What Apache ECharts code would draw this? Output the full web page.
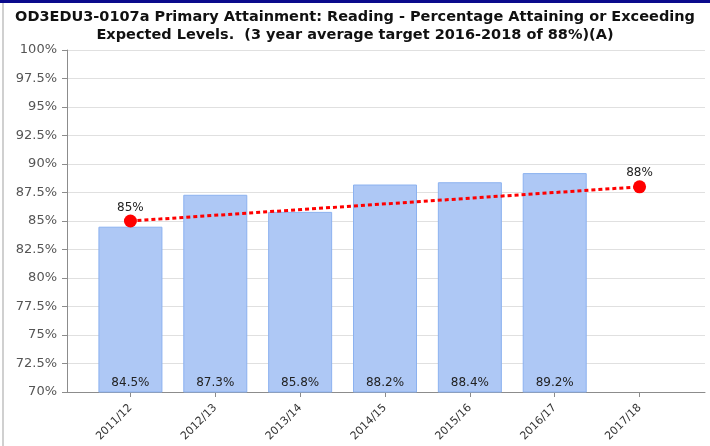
<!DOCTYPE html>
<html>
<head>
<meta charset="utf-8">
<script src="https://cdn.jsdelivr.net/npm/echarts@6/dist/echarts.min.js"></script>
<style>
  html, body { margin: 0; padding: 0; background: #fff; }
  #chart { width: 710px; height: 446px; }
</style>
</head>
<body>
<div id="chart"></div>
<script>
const years = ["2011/12", "2012/13", "2013/14", "2014/15", "2015/16", "2016/17", "2017/18"];
const actual = [84.5, 87.3, 85.8, 88.2, 88.4, 89.2, null];
const target = [85, null, null, null, null, null, 88];

const titleText = "OD3EDU3-0107a Primary Attainment: Reading - Percentage Attaining or Exceeding\nExpected Levels.  (3 year average target 2016-2018 of 88%)(A)";

const chart = echarts.init(document.getElementById("chart"));

const pct = (v) => `${v}%`;

chart.setOption({
  animation: false,
  title: {
    text: titleText,
    left: "center",
    top: 3,
    textStyle: {
      fontFamily: "DejaVu Sans",
      fontSize: 14.5,
      fontWeight: "bold",
      color: "#111",
      lineHeight: 18,
    },
  },
  graphic: [
    { type: "rect", shape: { x: 0, y: 0, width: 710, height: 3 }, style: { fill: "#0a0a8c" } },
    { type: "rect", shape: { x: 2, y: 3, width: 2, height: 443 }, style: { fill: "#d0d0d0" } },
  ],
  grid: [
    // frame grid: axis lines and gridlines across the full width
    { left: 67, right: 5, top: 50, bottom: 54 },
    // data grid: categories are placed inside it
    { left: 88, right: 28, top: 50, bottom: 54 },
  ],
  xAxis: [
    {
      gridIndex: 0,
      type: "value",
      min: 0,
      max: 1,
      axisLine: { show: true, lineStyle: { color: "#8c8c8c", width: 1 } },
      axisTick: { show: false },
      axisLabel: { show: false },
      splitLine: { show: false },
    },
    {
      gridIndex: 1,
      type: "category",
      data: years,
      axisLine: { show: false },
      axisTick: { show: true, alignWithLabel: true, length: 5, lineStyle: { color: "#8c8c8c" } },
      axisLabel: {
        rotate: 45,
        fontFamily: "DejaVu Sans",
        fontSize: 11,
        color: "#333",
        margin: 14,
      },
    },
  ],
  yAxis: [
    {
      gridIndex: 0,
      type: "value",
      min: 70,
      max: 100,
      interval: 2.5,
      axisLine: { show: true, lineStyle: { color: "#8c8c8c", width: 1 } },
      axisTick: { show: true, length: 5, lineStyle: { color: "#8c8c8c" } },
      axisLabel: {
        formatter: pct,
        fontFamily: "DejaVu Sans",
        fontSize: 13,
        color: "#555",
        margin: 10,
      },
      splitLine: { show: true, lineStyle: { color: "#e0e0e0", width: 1 } },
    },
    {
      gridIndex: 1,
      type: "value",
      min: 70,
      max: 100,
      interval: 2.5,
      show: false,
      splitLine: { show: false },
    },
  ],
  series: [
    {
      type: "bar",
      xAxisIndex: 1,
      yAxisIndex: 1,
      data: actual,
      barWidth: 64,
      itemStyle: { color: "#aec8f5", borderColor: "#8cb2f0", borderWidth: 1 },
      label: {
        show: true,
        position: "insideBottom",
        distance: 4,
        formatter: (p) => pct(p.value),
        fontFamily: "DejaVu Sans",
        fontSize: 12,
        color: "#222",
      },
    },
    {
      type: "line",
      xAxisIndex: 1,
      yAxisIndex: 1,
      data: target,
      connectNulls: true,
      symbol: "circle",
      symbolSize: 13,
      itemStyle: { color: "#ff0000" },
      lineStyle: { color: "#ff0000", width: 3, type: [4, 3], cap: "butt" },
      label: {
        show: true,
        position: "top",
        distance: 1,
        formatter: (p) => pct(p.value),
        fontFamily: "DejaVu Sans",
        fontSize: 12,
        color: "#222",
      },
      z: 5,
    },
  ],
});
</script>
</body>
</html>
